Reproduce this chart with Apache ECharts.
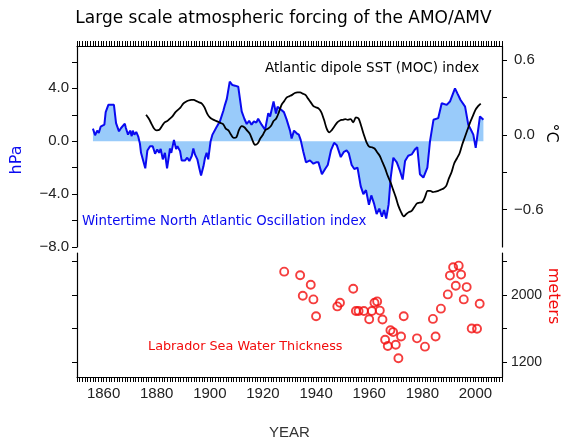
<!DOCTYPE html>
<html>
<head>
<meta charset="utf-8">
<script src="https://cdn.jsdelivr.net/npm/echarts@6/dist/echarts.min.js"></script>
<style>
html,body{margin:0;padding:0;background:#fff;}
#chart{width:567px;height:441px;}
</style>
</head>
<body>
<div id="chart"></div>
<script>
// ---- Data ----
const naoYears = [1856.0,1856.8,1857.6,1858.2,1858.9,1859.5,1860.3,1860.8,1861.8,1863.9,1864.7,1865.8,1866.6,1868.0,1868.4,1869.2,1870.0,1870.6,1871.0,1871.6,1872.3,1873.1,1873.7,1874.1,1874.8,1875.7,1876.5,1877.5,1878.5,1879.4,1880.2,1880.9,1881.5,1882.3,1883.1,1883.9,1884.6,1885.0,1885.5,1886.5,1887.3,1887.8,1888.8,1889.4,1890.7,1891.5,1892.3,1893.2,1893.8,1894.4,1895.3,1896.0,1896.7,1897.6,1898.2,1898.8,1899.4,1900.3,1901.0,1902.6,1903.8,1905.1,1905.7,1906.4,1907.5,1908.5,1909.5,1910.7,1912.0,1913.0,1913.9,1914.8,1915.7,1916.6,1917.5,1918.2,1919.5,1920.8,1922.0,1922.7,1924.0,1924.9,1925.5,1926.4,1927.9,1928.9,1930.2,1930.8,1931.7,1932.7,1933.5,1934.2,1935.2,1936.2,1937.7,1939.0,1940.0,1940.9,1942.2,1943.4,1944.4,1945.6,1946.8,1947.8,1949.3,1950.5,1951.5,1952.3,1953.4,1954.4,1955.6,1956.8,1957.8,1958.8,1959.9,1960.8,1961.8,1962.8,1963.8,1964.8,1965.6,1966.4,1967.3,1968.1,1969.1,1970.4,1971.6,1972.6,1973.5,1974.7,1976.0,1977.3,1978.1,1979.1,1980.4,1981.9,1982.9,1984.2,1986.0,1987.3,1989.2,1990.4,1992.3,1993.2,1994.4,1996.1,1997.3,1998.3,1999.2,2000.1,2001.7,2003.0];
const naoValues = [0.95,0.45,0.8,0.62,1.1,0.95,1.25,2.2,2.75,2.75,1.37,0.75,1.0,1.33,1.0,0.5,0.8,0.38,0.8,0.5,0.7,0.32,-0.2,-0.88,-1.0,-2.05,-0.7,-0.38,-0.38,-0.95,-0.62,-0.88,-0.58,-1.37,-0.88,-2.05,-1.12,-0.55,-0.88,0.1,-0.6,-0.38,-0.75,-1.45,-1.45,-1.25,-1.5,-1.12,-0.55,-1.0,-1.37,-2.0,-2.6,-1.9,-1.25,-0.88,-1.37,0.0,0.5,1.1,1.5,2.3,2.75,3.2,4.5,4.25,4.2,4.12,2.25,1.7,1.3,1.55,1.25,1.5,1.4,1.7,1.25,0.87,2.12,1.87,3.0,2.1,2.6,2.45,2.2,1.65,0.8,0.2,0.8,0.6,0.5,0.1,-0.8,-1.6,-1.45,-1.7,-1.6,-1.6,-2.5,-2.1,-1.8,-0.7,-0.12,-0.3,-1.2,-0.8,-0.7,-0.9,-1.8,-2.1,-2.0,-3.4,-4.0,-3.7,-4.8,-4.1,-4.7,-5.5,-5.1,-5.7,-5.2,-5.85,-4.8,-2.75,-1.25,-1.6,-2.25,-2.9,-1.5,-1.1,-1.0,-0.6,-0.45,-2.5,-2.75,-2.0,0.0,1.62,1.75,2.87,2.75,3.0,4.0,3.62,3.12,2.62,1.25,0.87,0.5,-0.5,1.87,1.62];

const sstYears = [];
for (let y = 1876; y <= 2002; y++) sstYears.push(y);
const sstValues = [0.16,0.13,0.09,0.05,0.035,0.04,0.07,0.1,0.11,0.13,0.15,0.18,0.2,0.22,0.25,0.265,0.275,0.28,0.28,0.27,0.26,0.25,0.22,0.17,0.14,0.125,0.115,0.105,0.095,0.085,0.05,0.035,0.0,-0.025,-0.02,0.04,0.07,0.06,0.035,0.01,-0.04,-0.08,-0.07,-0.03,0.0,0.04,0.05,0.07,0.11,0.13,0.18,0.24,0.27,0.3,0.31,0.32,0.335,0.34,0.34,0.33,0.32,0.29,0.26,0.23,0.22,0.21,0.18,0.12,0.05,0.02,0.04,0.07,0.1,0.115,0.12,0.125,0.12,0.125,0.1,0.14,0.13,0.07,0.0,-0.06,-0.095,-0.1,-0.11,-0.14,-0.17,-0.22,-0.27,-0.33,-0.38,-0.44,-0.5,-0.57,-0.62,-0.655,-0.635,-0.62,-0.61,-0.58,-0.55,-0.545,-0.54,-0.5,-0.45,-0.45,-0.46,-0.455,-0.45,-0.44,-0.43,-0.41,-0.35,-0.3,-0.23,-0.19,-0.15,-0.08,-0.02,0.04,0.1,0.15,0.2,0.23,0.25];

const lswYears = [1928,1934,1935,1938,1939,1940,1948,1949,1954,1955,1956,1958,1960,1961,1962,1963,1964,1965,1966,1967,1968,1969,1970,1971,1972,1973,1978,1981,1984,1985,1987,1989.6,1990.4,1991.6,1992.6,1993.7,1994.6,1995.6,1996.7,1998.6,2000.6,2001.6];
const lswValues = [2274,2232,1988,2118,1945,1745,1862,1906,2071,1808,1808,1808,1710,1808,1906,1921,1812,1706,1467,1392,1580,1557,1408,1247,1506,1745,1483,1385,1714,1506,1835,2004,2227,2326,2106,2345,2239,1945,2091,1600,1597,1894];

const yearTicks = [1860,1880,1900,1920,1940,1960,1980,2000];
const hpaTicks = [-8,-6,-4,-2,0,2,4,6];
const hpaLabels = [-8,-4,0,4];
const sstTicks = [-0.6,-0.3,0,0.3,0.6];
const sstLabels = [-0.6,0,0.6];
const mTicks = [1200,1600,2000,2400];
const mLabels = [1200,2000];

// ---- Helpers ----
const fmt1 = v => (v < 0 ? '\u2212' : '') + Math.abs(v).toFixed(1);
const zip = (a, b) => a.map((x, i) => [x, b[i]]);

const LABEL_FONT = '"Liberation Sans", Arial, sans-serif';
const TEXT_FONT = '"DejaVu Sans", Verdana, sans-serif';
const axisLine = { show: true, onZero: false, lineStyle: { color: '#000', width: 1.2 } };

const chart = echarts.init(document.getElementById('chart'), null, { renderer: 'canvas' });

const option = {
  backgroundColor: '#fff',
  animation: false,
  title: [{
    text: 'Large scale atmospheric forcing of the AMO/AMV',
    left: 'center', top: 5,
    textStyle: { fontFamily: TEXT_FONT, fontSize: 17, fontWeight: 'normal', color: '#000' }
  }],
  grid: [
    { left: 77, right: 65, top: 46, height: 201 },
    { left: 77, right: 65, top: 253, height: 125 }
  ],
  xAxis: [
    { type: 'value', gridIndex: 0, min: 1850, max: 2010, interval: 10, position: 'top',
      axisLine: axisLine,
      axisTick: { show: true, inside: false, length: 5, lineStyle: { color: '#000' } },
      minorTick: { show: true, splitNumber: 10, length: 5, lineStyle: { color: '#000' } },
      axisLabel: { show: false }, splitLine: { show: false }, minorSplitLine: { show: false } },
    { type: 'value', gridIndex: 1, min: 1850, max: 2010, interval: 10, position: 'bottom',
      axisLine: axisLine,
      axisTick: { show: true, inside: false, length: 5, lineStyle: { color: '#000' } },
      minorTick: { show: true, splitNumber: 10, length: 5, lineStyle: { color: '#000' } },
      axisLabel: { show: true, margin: 9, color: '#222', fontFamily: LABEL_FONT, fontSize: 15,
        customValues: yearTicks, formatter: v => String(v) },
      name: 'YEAR', nameLocation: 'middle', nameGap: 48,
      nameTextStyle: { fontFamily: LABEL_FONT, fontSize: 15, color: '#333' },
      splitLine: { show: false } }
  ],
  yAxis: [
    { type: 'value', gridIndex: 0, min: -8, max: 7.2, position: 'left',
      axisLine: axisLine,
      axisTick: { show: true, inside: false, length: 5, customValues: hpaTicks, lineStyle: { color: '#000' } },
      axisLabel: { show: true, customValues: hpaLabels, formatter: fmt1, margin: 8,
        color: '#222', fontFamily: LABEL_FONT, fontSize: 15 },
      splitLine: { show: false } },
    { type: 'value', gridIndex: 0, min: -0.9, max: 0.712, position: 'right',
      axisLine: axisLine,
      axisTick: { show: true, inside: false, length: 5, customValues: sstTicks, lineStyle: { color: '#000' } },
      axisLabel: { show: true, customValues: sstLabels, formatter: fmt1, margin: 12,
        color: '#222', fontFamily: LABEL_FONT, fontSize: 15 },
      splitLine: { show: false } },
    { type: 'value', gridIndex: 1, min: 1025, max: 2495, position: 'left',
      axisLine: axisLine,
      axisTick: { show: true, inside: false, length: 5, customValues: mTicks, lineStyle: { color: '#000' } },
      axisLabel: { show: false }, splitLine: { show: false } },
    { type: 'value', gridIndex: 1, min: 1025, max: 2495, position: 'right',
      axisLine: axisLine,
      axisTick: { show: true, inside: false, length: 5, customValues: mTicks, lineStyle: { color: '#000' } },
      axisLabel: { show: true, customValues: mLabels, formatter: v => String(v), margin: 9,
        color: '#222', fontFamily: LABEL_FONT, fontSize: 14 },
      splitLine: { show: false } }
  ],
  series: [
    { name: 'NAO', type: 'line', xAxisIndex: 0, yAxisIndex: 0,
      data: zip(naoYears, naoValues), showSymbol: false, symbol: 'none',
      lineStyle: { color: '#0a0af0', width: 2 },
      areaStyle: { origin: 0, color: '#99cbfa', opacity: 1 },
      z: 2 },
    { name: 'SST', type: 'line', xAxisIndex: 0, yAxisIndex: 1,
      data: zip(sstYears, sstValues), showSymbol: false, symbol: 'none', smooth: 0.3,
      lineStyle: { color: '#000', width: 1.8 }, z: 3 },
    { name: 'LSW', type: 'scatter', xAxisIndex: 1, yAxisIndex: 3,
      data: zip(lswYears, lswValues), symbol: 'circle', symbolSize: 8,
      itemStyle: { color: 'rgba(0,0,0,0)', borderColor: '#f20c0c', borderWidth: 1.9 } }
  ],
  graphic: [
    { type: 'text', left: 265, top: 61,
      style: { text: 'Atlantic dipole SST (MOC) index', fill: '#000', font: '13.5px ' + TEXT_FONT } },
    { type: 'text', left: 82, top: 215,
      style: { text: 'Wintertime North Atlantic Oscillation index', fill: '#0a0af0', font: '13.3px ' + TEXT_FONT } },
    { type: 'text', left: 148, top: 340,
      style: { text: 'Labrador Sea Water Thickness', fill: '#f20c0c', font: '12.8px ' + TEXT_FONT } },
    { type: 'text', x: 17, y: 160, rotation: Math.PI / 2,
      style: { text: 'hPa', fill: '#0a0af0', font: '16px ' + TEXT_FONT, align: 'center', verticalAlign: 'middle' } },
    { type: 'text', x: 551, y: 133, rotation: -Math.PI / 2,
      style: { text: '\u00B0C', fill: '#000', font: '16px ' + TEXT_FONT, align: 'center', verticalAlign: 'middle' } },
    { type: 'text', x: 553, y: 296, rotation: -Math.PI / 2,
      style: { text: 'meters', fill: '#f20c0c', font: '16px ' + TEXT_FONT, align: 'center', verticalAlign: 'middle' } }
  ]
};
chart.setOption(option);
</script>
</body>
</html>
